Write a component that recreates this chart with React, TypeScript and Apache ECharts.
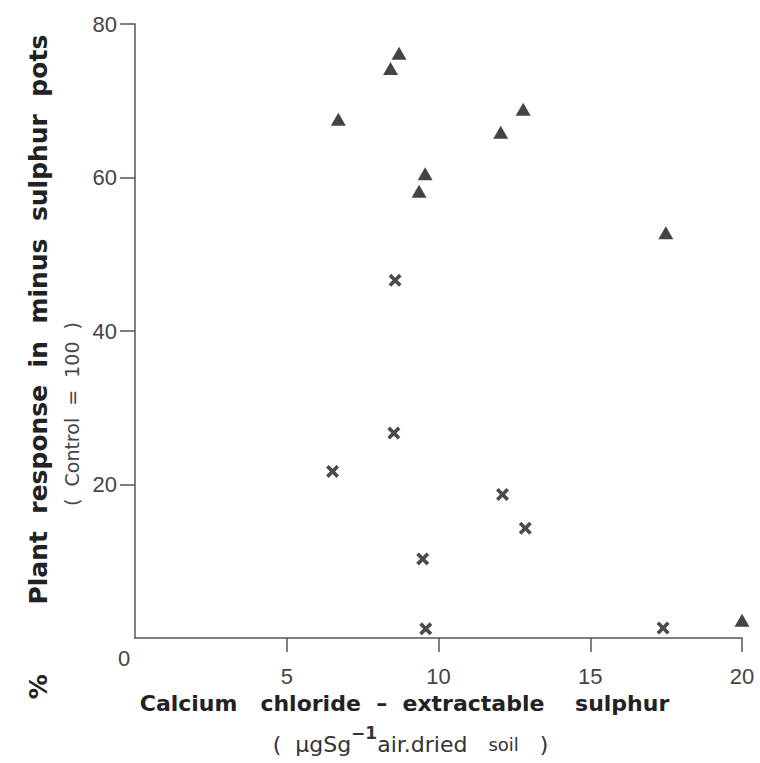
import React, { useEffect, useRef } from "react";
import * as echarts from "echarts";

const xTicks = [5, 10, 15, 20];
const yTicks = [20, 40, 60, 80];

// Triangles and crosses
const triangleX = [6.7, 8.42, 8.7, 9.36, 9.56, 12.05, 12.79, 17.49, 20.0];
const triangleY = [67.6, 74.2, 76.2, 58.2, 60.5, 65.9, 68.9, 52.8, 2.3];

const crossX = [6.51, 8.53, 8.57, 9.48, 9.58, 12.11, 12.86, 17.4];
const crossY = [21.7, 26.7, 46.6, 10.3, 1.2, 18.7, 14.3, 1.3];

const xTitle = "Calcium   chloride  –  extractable    sulphur";
const yTitle = "%        Plant  response  in  minus  sulphur  pots";
const yTitle2 = "(  Control  =  100  )";

const CROSS =
  "path://M2,0 L5,3 L8,0 L10,2 L7,5 L10,8 L8,10 L5,7 L2,10 L0,8 L3,5 L0,2 Z";

export default function App() {
  const ref = useRef<HTMLDivElement>(null);
  useEffect(() => {
    if (!ref.current) return;
    const chart = echarts.init(ref.current, undefined, { renderer: "svg" });
    const font = "'Liberation Sans', Arial, sans-serif";
    const tfont = "'DejaVu Sans', sans-serif";
    const axisColor = "#555";
    chart.setOption({
      animation: false,
      backgroundColor: "#ffffff",
      grid: {
        left: 135,
        right: 18,
        top: 24,
        bottom: 125,
        containLabel: false,
        outerBoundsMode: "none",
      },
      xAxis: {
        type: "value",
        min: 0,
        max: 20,
        interval: 5,
        splitLine: { show: false },
        axisLine: { show: true, lineStyle: { color: axisColor, width: 1.5 } },
        axisTick: {
          show: true,
          inside: false,
          length: 14,
          customValues: xTicks,
          lineStyle: { color: axisColor, width: 1.5 },
        },
        axisLabel: {
          customValues: xTicks,
          margin: 27,
          fontSize: 22,
          color: "#444",
          fontFamily: font,
          verticalAlign: "top",
        },
        name:
          "{a|" +
          xTitle +
          "}\n{b|(  µgSg}{sup|−1}{b|air.dried   }{s|soil}{e|   )}",
        nameLocation: "middle",
        nameGap: 45,
        nameTextStyle: {
          align: "center",
          verticalAlign: "top",
          rich: {
            a: {
              fontSize: 22,
              fontWeight: "bold",
              color: "#222",
              fontFamily: tfont,
              lineHeight: 41,
              padding: [0, 68, 0, 0],
            },
            b: {
              fontSize: 22,
              color: "#333",
              fontFamily: tfont,
              lineHeight: 41,
            },
            e: {
              fontSize: 22,
              color: "#333",
              fontFamily: tfont,
              lineHeight: 41,
              padding: [0, 56, 0, 0],
            },
            sup: {
              fontSize: 17,
              fontWeight: "bold",
              color: "#333",
              fontFamily: tfont,
              verticalAlign: "top",
              lineHeight: 30,
            },
            s: {
              fontSize: 18,
              color: "#333",
              fontFamily: tfont,
              lineHeight: 41,
            },
          },
        },
      },
      yAxis: {
        type: "value",
        min: 0,
        max: 80,
        interval: 20,
        splitLine: { show: false },
        axisLine: { show: true, lineStyle: { color: axisColor, width: 1.5 } },
        axisTick: {
          show: true,
          length: 15,
          customValues: yTicks,
          lineStyle: { color: axisColor, width: 1.5 },
        },
        axisLabel: {
          customValues: yTicks,
          margin: 18,
          fontSize: 22,
          color: "#444",
          fontFamily: font,
        },
        name: "{a|" + yTitle + "}\n{b|" + yTitle2 + "}",
        nameLocation: "middle",
        nameRotate: 90,
        nameGap: 46,
        nameTextStyle: {
          align: "center",
          rich: {
            a: {
              fontSize: 25,
              fontWeight: "bold",
              color: "#222",
              fontFamily: tfont,
              lineHeight: 34,
              padding: [0, 72, 0, 0],
            },
            b: {
              fontSize: 19,
              color: "#444",
              fontFamily: tfont,
              lineHeight: 34,
              padding: [0, 166, 0, 0],
            },
          },
        },
      },
      graphic: [
        {
          type: "text",
          x: 124,
          y: 658,
          style: {
            text: "0",
            fontSize: 22,
            fill: "#444",
            fontFamily: font,
            align: "center",
            verticalAlign: "middle",
          },
        },
      ],
      series: [
        {
          type: "scatter",
          name: "triangles",
          symbol: "triangle",
          symbolSize: [15, 13],
          clip: false,
          itemStyle: { color: "#151515" },
          data: triangleX.map((x, i) => [x, triangleY[i]]),
        },
        {
          type: "scatter",
          name: "crosses",
          symbol: CROSS,
          symbolSize: 13,
          clip: false,
          itemStyle: { color: "#1e1e1e" },
          data: crossX.map((x, i) => [x, crossY[i]]),
        },
      ],
    });
    return () => chart.dispose();
  }, []);
  return (
    <div
      ref={ref}
      style={{ width: 760, height: 763, position: "absolute", left: 0, top: 0 }}
    />
  );
}
